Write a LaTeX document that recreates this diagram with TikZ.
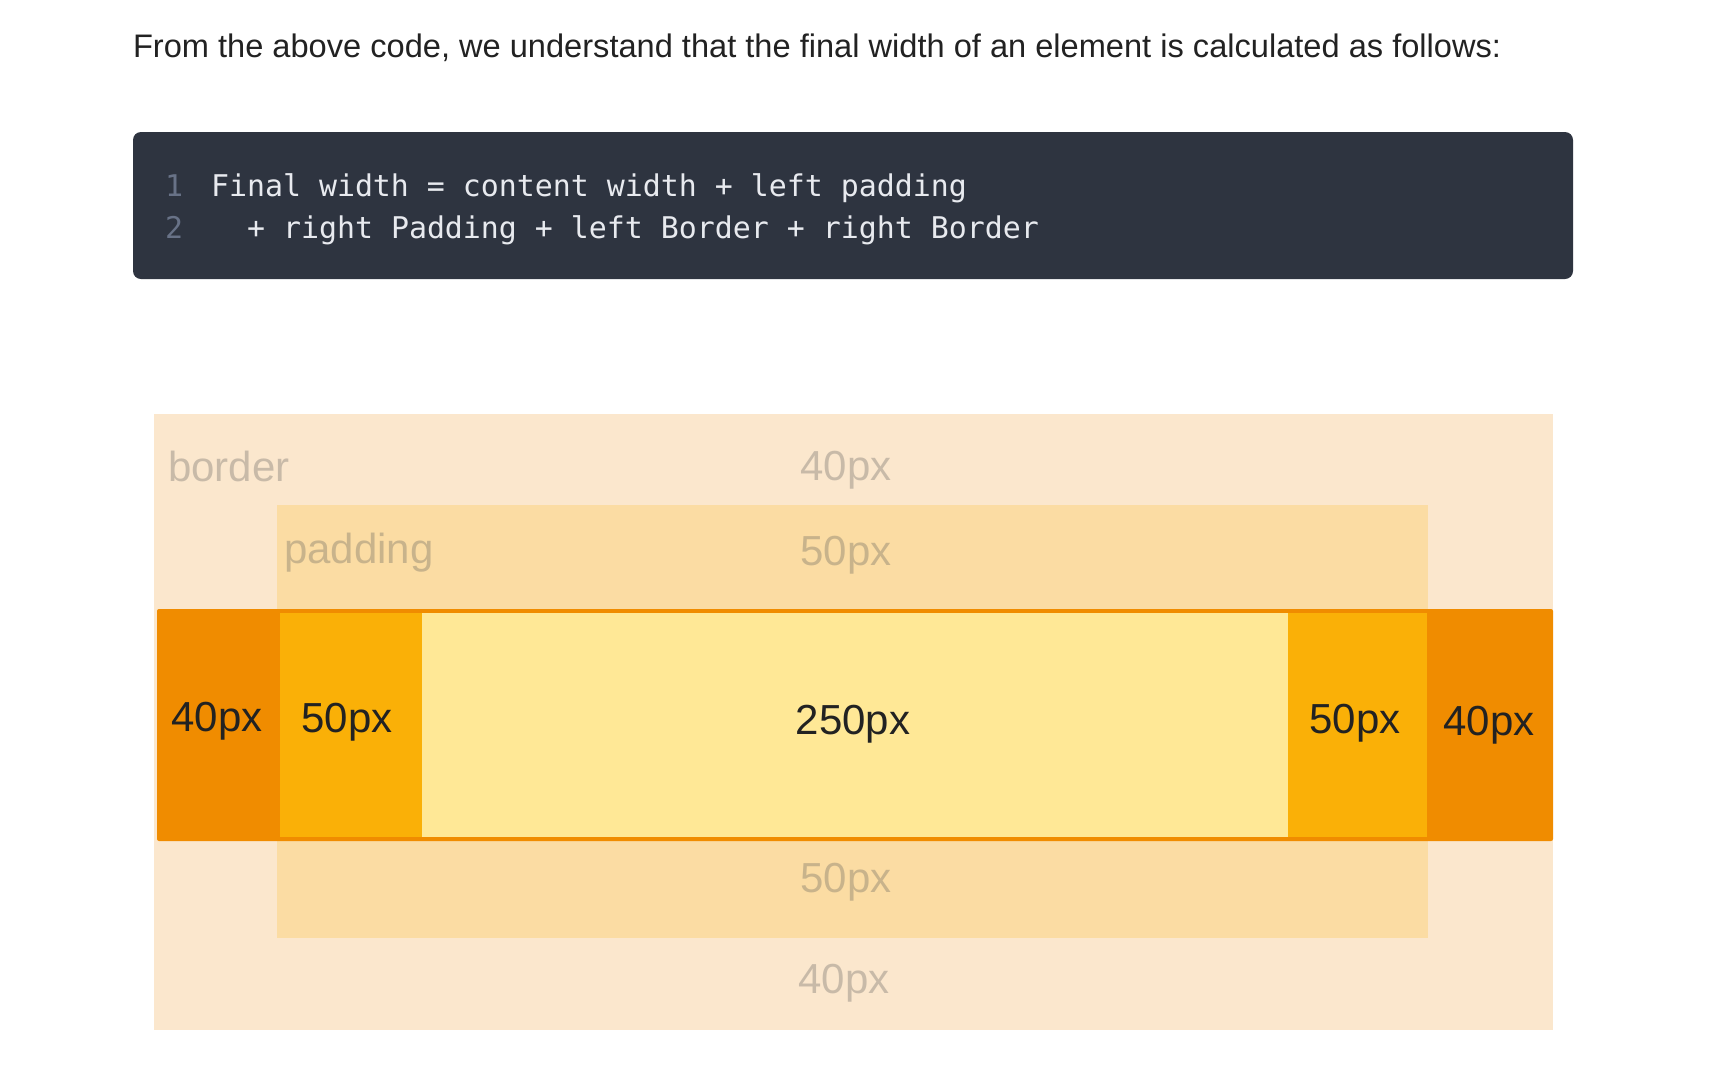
\documentclass[tikz,border=0pt]{standalone}
\usepackage{fontspec}
\setmainfont{Liberation Sans}
\newfontfamily\codefont{DejaVu Sans Mono}
\definecolor{codebg}{HTML}{2E3440}
\definecolor{codefg}{HTML}{E8EAEF}
\definecolor{lineno}{HTML}{687287}
\definecolor{titlefg}{HTML}{222222}
\definecolor{borderbg}{HTML}{FBE7CD}
\definecolor{paddingbg}{HTML}{FBDCA3}
\definecolor{borderfg}{HTML}{F08C00}
\definecolor{paddingfg}{HTML}{FAB007}
\definecolor{contentfg}{HTML}{FFE896}
\definecolor{labelgray}{HTML}{555555}
\definecolor{labeldark}{HTML}{222222}
\tikzset{
  txt/.style={inner sep=0pt, outer sep=0pt, anchor=base},
  codetxt/.style={txt, anchor=base west, text=codefg, font=\codefont\fontsize{29.9}{36}\selectfont},
  linenum/.style={txt, text=lineno, font=\codefont\fontsize{29.9}{36}\selectfont},
  faint/.style={txt, text=labelgray, text opacity=0.3, font=\fontsize{42}{50}\selectfont},
  strong/.style={txt, text=labeldark, font=\fontsize{42}{50}\selectfont},
}
\begin{document}
\begin{tikzpicture}[x=1pt,y=-1pt]
\useasboundingbox[fill=white] (0,0) rectangle (1730,1088);
% title
\node[txt, anchor=base west, text=titlefg, font=\fontsize{32.6}{40}\selectfont] (title) at (133,57)
  {From the above code, we understand that the final width of an element is calculated as follows:};
% code block
\fill[codebg, rounded corners=8pt] (133,132) rectangle (1573,279);
\node[linenum] (n1) at (174,196) {1};
\node[linenum] (n2) at (174,238) {2};
\node[codetxt] (c1) at (211,196) {Final width = content width + left padding};
\node[codetxt] (c2) at (247,238) {+ right Padding + left Border + right Border};
% box model
\fill[borderbg] (154,414) rectangle (1553,1030);
\fill[paddingbg] (277,505) rectangle (1428,938);
\fill[borderfg, rounded corners=2pt] (157,609) rectangle (1553,841);
\fill[paddingfg] (280,613) rectangle (422,837);
\fill[contentfg] (422,613) rectangle (1288,837);
\fill[paddingfg] (1288,613) rectangle (1427,837);
% faint labels
\node[faint, anchor=base west] (lborder) at (168,481) {border};
\node[faint, anchor=base west] (lpadding) at (284,563) {padding};
\node[faint] (bt) at (846,480) {40px};
\node[faint] (pt) at (846,565) {50px};
\node[faint] (pb) at (846,892) {50px};
\node[faint] (bb) at (844,993) {40px};
% strong labels
\node[strong] (bl) at (217,731) {40px};
\node[strong] (pl) at (347,732) {50px};
\node[strong] (cw) at (853,734) {250px};
\node[strong] (pr) at (1355,733) {50px};
\node[strong] (br) at (1489,735) {40px};
\end{tikzpicture}
\end{document}
